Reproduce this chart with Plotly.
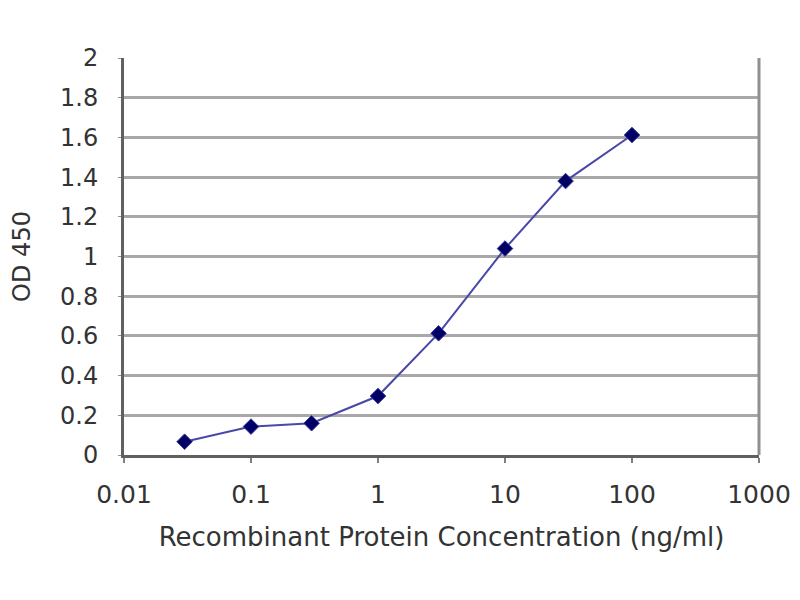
import plotly.graph_objects as go

# ELISA standard curve
concentracion = [0.03, 0.1, 0.3, 1, 3, 10, 30, 100]
od450 = [0.067, 0.143, 0.16, 0.297, 0.613, 1.04, 1.38, 1.612]
x_ticks = [0.01, 0.1, 1, 10, 100, 1000]
x_labels = ["0.01", "0.1", "1", "10", "100", "1000"]
y_ticks = [0, 0.2, 0.4, 0.6, 0.8, 1, 1.2, 1.4, 1.6, 1.8, 2]
y_labels = ["0", "0.2", "0.4", "0.6", "0.8", "1", "1.2", "1.4", "1.6", "1.8", "2"]

fuente = "DejaVu Sans"
gris = "#333333"

fig = go.Figure(go.Scatter(
    x=concentracion,
    y=od450,
    mode="lines+markers",
    line=dict(color="#4848a8", width=2),
    marker=dict(symbol="diamond", size=12, color="#000066",
                line=dict(color="#3a3a9a", width=1)),
    showlegend=False))

# the page body adds 8px, so the figure is a bit smaller than the window
fig.update_layout(
    width=792, height=592,
    paper_bgcolor="white", plot_bgcolor="white",
    margin=dict(l=116, r=41, t=50, b=145, autoexpand=False),
    font=dict(family=fuente, color=gris, size=22),
)

fig.update_xaxes(
    type="log", range=[-2, 3],
    tickvals=x_ticks, ticktext=x_labels,
    showgrid=False, zeroline=False,
    showline=True, linecolor="#606060", linewidth=3,
    ticks="outside", ticklen=5, tickcolor="#808080", tickwidth=2,
    ticklabelstandoff=10,
    tickfont=dict(size=25, family=fuente, color=gris),
    title=dict(text="Recombinant Protein Concentration (ng/ml)",
               font=dict(size=26, family=fuente, color=gris),
               standoff=20),
)

fig.update_yaxes(
    range=[0, 2],
    tickvals=y_ticks, ticktext=y_labels,
    showgrid=True, gridcolor="#a8a8a8", gridwidth=3,
    zeroline=False,
    showline=True, linecolor="#606060", linewidth=3,
    ticks="outside", ticklen=3, tickcolor="#909090",
    ticklabelstandoff=15,
    tickfont=dict(size=24, family=fuente, color=gris),
    title=dict(text="OD 450", font=dict(size=24, family=fuente, color=gris),
               standoff=32),
)

# right border of the plot area
fig.add_shape(type="line", xref="paper", yref="paper",
              x0=1, x1=1, y0=0, y1=1,
              line=dict(color="#909090", width=3))

fig.write_html("out.html")
